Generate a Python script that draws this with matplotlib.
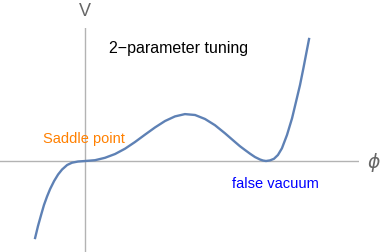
import matplotlib.pyplot as plt

plt.rcParams['mathtext.fontset'] = 'dejavusans'

# potential curve (phi scaled so false vacuum = 1, V scaled so local max = 1)
phi = [-0.276, -0.260, -0.243, -0.227, -0.210, -0.193, -0.171, -0.149, -0.127, -0.099,
       -0.072, -0.039, 0.000, 0.055, 0.110, 0.166, 0.221, 0.276, 0.331, 0.387,
       0.442, 0.497, 0.552, 0.608, 0.663, 0.718, 0.773, 0.829, 0.856, 0.884,
       0.912, 0.939, 0.967, 0.983, 1.000, 1.022, 1.044, 1.066, 1.088, 1.116,
       1.144, 1.166, 1.188, 1.207, 1.224, 1.238]
V = [-1.638, -1.383, -1.149, -0.936, -0.755, -0.596, -0.426, -0.287, -0.181, -0.085,
     -0.036, -0.011, 0.000, 0.017, 0.068, 0.149, 0.262, 0.404, 0.560, 0.715,
     0.851, 0.949, 0.998, 0.979, 0.894, 0.762, 0.591, 0.404, 0.315, 0.234,
     0.155, 0.085, 0.032, 0.011, 0.000, 0.013, 0.047, 0.128, 0.270, 0.553,
     0.909, 1.262, 1.617, 1.979, 2.319, 2.596]

W, H = 382, 252
fig = plt.figure(figsize=(W / 100, H / 100), dpi=100)
# axes box: x axis line spans px 0..359, y axis line spans px 28..252
ax = fig.add_axes([0, 0, 359 / W, (252 - 28) / H])
ax.set_xlim(-0.470, 1.514)
ax.set_ylim(-1.936, 2.830)
ax.axis('off')

ax.axhline(0, color='#b3b3b3', lw=1.0)
ax.axvline(0, color='#b3b3b3', lw=1.0)
ax.plot(phi, V, color='#5e81b5', lw=1.7, solid_joinstyle='round')

font = 'Liberation Sans'
fig.text(85 / W, 1 - 11 / H, 'V', ha='center', va='center', fontsize=13,
         color='#666666', family=font)
fig.text(374 / W, 1 - 162 / H, r'$\phi$', ha='center', va='center', fontsize=13.5,
         color='#666666')
fig.text(179 / W, 1 - 48 / H, '2\u2212parameter tuning', ha='center', va='center',
         fontsize=11.5, color='black', family=font)
fig.text(84 / W, 1 - 139 / H, 'Saddle point', ha='center', va='center',
         fontsize=10.5, color='#ff8000', family=font)
fig.text(275 / W, 1 - 184 / H, 'false vacuum', ha='center', va='center',
         fontsize=10.5, color='#0000ff', family=font)

fig.savefig('out.png', dpi=100)
